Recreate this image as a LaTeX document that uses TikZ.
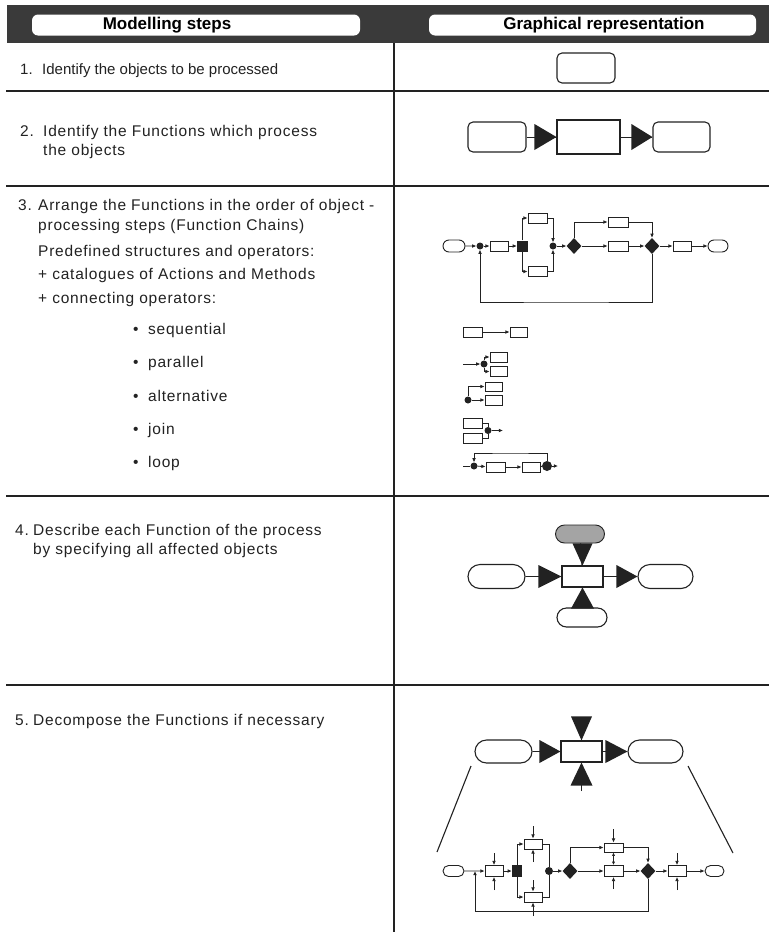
\documentclass[tikz,border=0pt]{standalone}
\usepackage{fontspec}
\setmainfont{Liberation Sans}
\newfontfamily\rowfont{Liberation Sans}[LetterSpace=5]
\usetikzlibrary{arrows.meta,shapes.misc,shapes.geometric,calc}
\definecolor{ink}{HTML}{222222}
\definecolor{band}{HTML}{3A3A3A}
\definecolor{stip}{HTML}{A4A4A4}
\begin{document}
\begin{tikzpicture}[x=1pt,y=-1pt,
  line/.style={draw=ink, line width=0.9pt},
  arr/.style={line, -{Latex[length=4.2pt,width=3.8pt]}},
  fn/.style={draw=ink, line width=0.9pt, fill=white, rectangle, inner sep=0pt},
  obj/.style={draw=ink, line width=0.9pt, fill=white, rounded rectangle, inner sep=0pt},
  robox/.style={draw=ink, line width=1.1pt, fill=white, rectangle, rounded corners=5pt, inner sep=0pt},
  dot/.style={circle, fill=ink, inner sep=0pt, minimum size=7pt},
  andsq/.style={rectangle, fill=ink, inner sep=0pt},
  xor/.style={diamond, fill=ink, inner sep=0pt, minimum width=15pt, minimum height=16pt},
  tri/.style={fill=ink},
  grid/.style={draw=ink, line width=2.2pt},
  hdrbox/.style={fill=white, rounded corners=6pt, inner sep=0pt},
  hdr/.style={inner sep=0pt, font=\fontsize{17}{20}\selectfont\bfseries, text=black},
  txtA/.style={anchor=base west, inner sep=0pt, font=\fontsize{15}{18}\selectfont, text=ink},
  txt/.style={anchor=base west, inner sep=0pt, font=\rowfont\fontsize{15.5}{18}\selectfont, text=ink},
]
\useasboundingbox (0,0) rectangle (769,932);
\fill[white] (0,0) rectangle (769,932);

% header
\fill[band] (7,5) rectangle (769,43);
\node[hdrbox, minimum width=328pt, minimum height=21pt] (h1) at (196,25) {};
\node[hdrbox, minimum width=327pt, minimum height=21pt] (h2) at (592.5,25) {};
\node[hdr] (h1t) at (167,25) {Modelling steps};
\node[hdr] (h2t) at (604,25) {Graphical representation};

% grid
\draw[grid] (394,43) -- (394,932);
\draw[grid] (6,91) -- (769,91);
\draw[grid] (6,186) -- (769,186);
\draw[grid] (6,496) -- (769,496);
\draw[grid] (6,685) -- (769,685);

% left column texts
\node[txtA] (n1) at (20,74) {1.};
\node[txtA] (t1) at (42,74) {Identify the objects to be processed};
\node[txt] (n2) at (20,136) {2.};
\node[txt] (t2a) at (43,136) {Identify the Functions which process};
\node[txt] (t2b) at (43,155) {the objects};
\node[txt] (n3) at (18,210) {3.};
\node[txt] (t3a) at (38,210) {Arrange the Functions in the order of object -};
\node[txt] (t3b) at (38,230) {processing steps (Function Chains)};
\node[txt] (t3c) at (38,256) {Predefined structures and operators:};
\node[txt] (t3d) at (38,279) {+ catalogues of Actions and Methods};
\node[txt] (t3e) at (38,303) {+ connecting operators:};
\node[txt] (b1) at (133,334) {•};
\node[txt] (o1) at (148,334) {sequential};
\node[txt] (b2) at (133,367) {•};
\node[txt] (o2) at (148,367) {parallel};
\node[txt] (b3) at (133,401) {•};
\node[txt] (o3) at (148,401) {alternative};
\node[txt] (b4) at (133,434) {•};
\node[txt] (o4) at (148,434) {join};
\node[txt] (b5) at (133,467) {•};
\node[txt] (o5) at (148,467) {loop};
\node[txt] (n4) at (15,535) {4.};
\node[txt] (t4a) at (33,535) {Describe each Function of the process};
\node[txt] (t4b) at (33,554) {by specifying all affected objects};
\node[txt] (n5) at (15,725) {5.};
\node[txt] (t5) at (33,725) {Decompose the Functions if necessary};

% row 1
\node[robox, minimum width=58pt, minimum height=30pt] (r1obj) at (586,68) {};

% row 2
\node[robox, minimum width=58pt, minimum height=30pt] (r2a) at (497,137) {};
\node[fn, line width=1.1pt, minimum width=63pt, minimum height=34pt] (r2f) at (588.5,137) {};
\node[robox, minimum width=57pt, minimum height=30pt] (r2b) at (681.5,137) {};
\draw[line] (r2a) -- (r2f);
\draw[line] (r2f) -- (r2b);
\fill[tri] (r2f.west) -- ++(-22,-13) -- ++(0,26) -- cycle;
\fill[tri] (r2b.west) -- ++(-21,-13) -- ++(0,26) -- cycle;

% row 3 main chain
\node[obj, minimum width=22pt, minimum height=12pt] (s3) at (454,246) {};
\node[dot] (d1) at (480,246) {};
\node[fn, minimum width=18pt, minimum height=10pt] (f1) at (499,246) {};
\node[andsq, minimum size=11pt] (sq) at (522.5,246) {};
\node[fn, minimum width=19pt, minimum height=10pt] (fu) at (537.5,218) {};
\node[fn, minimum width=19pt, minimum height=10pt] (fl) at (537.5,271.5) {};
\node[dot] (d2) at (553,246) {};
\node[xor] (x1) at (574,246) {};
\node[fn, minimum width=20pt, minimum height=10pt] (fu2) at (618,222) {};
\node[fn, minimum width=20pt, minimum height=10pt] (fm2) at (618,246) {};
\node[xor] (x2) at (652,246) {};
\node[fn, minimum width=18pt, minimum height=10pt] (f3) at (682,246) {};
\node[obj, minimum width=20pt, minimum height=12pt] (e3) at (718,246) {};
\coordinate (lp3) at (566,302);
\draw[arr] (s3) -- (d1);
\draw[arr] (d1) -- (f1);
\draw[arr] (f1) -- (sq);
\draw[arr] (sq.north) |- (fu.west);
\draw[arr] (sq.south) |- (fl.west);
\draw[arr] (fu.east) -| (d2.north);
\draw[arr] (fl.east) -| (d2.south);
\draw[arr] (d2) -- (x1);
\draw[arr] (x1.north) |- (fu2.west);
\draw[arr] (x1) -- (fm2);
\draw[arr] (fu2.east) -| (x2.north);
\draw[arr] (fm2) -- (x2);
\draw[arr] (x2) -- (f3);
\draw[arr] (f3) -- (e3);
\draw[arr] (x2.south) |- (lp3) -| (d1.south);

% operators: sequential
\node[fn, minimum width=19pt, minimum height=10pt] (q1) at (472.5,332) {};
\node[fn, minimum width=17pt, minimum height=10pt] (q2) at (518.5,332) {};
\draw[arr] (q1) -- (q2);
% parallel
\coordinate (pin) at (463,364);
\node[dot] (ps) at (484,364) {};
\node[fn, minimum width=17pt, minimum height=10pt] (p1) at (498.5,357) {};
\node[fn, minimum width=17pt, minimum height=10pt] (p2) at (498.5,371.5) {};
\draw[arr] (pin) -- (ps);
\draw[arr] (ps.north) |- (p1.west);
\draw[arr] (ps.south) |- (p2.west);
% alternative
\node[dot] (ad) at (468,400) {};
\node[fn, minimum width=17pt, minimum height=9pt] (a1) at (493.5,386.5) {};
\node[fn, minimum width=17pt, minimum height=10pt] (a2) at (493.5,400) {};
\draw[arr] (ad.north) |- (a1.west);
\draw[arr] (ad) -- (a2);
% join
\node[fn, minimum width=19pt, minimum height=10pt] (j1) at (472.5,423) {};
\node[fn, minimum width=19pt, minimum height=10pt] (j2) at (472.5,438) {};
\node[dot] (jd) at (488,430.5) {};
\coordinate (jo) at (503,430.5);
\draw[line] (j1.east) -| (jd.north);
\draw[line] (j2.east) -| (jd.south);
\draw[arr] (jd) -- (jo);
% loop
\coordinate (lin) at (463,466);
\node[dot] (ld) at (474,466) {};
\node[fn, minimum width=19pt, minimum height=10pt] (l1) at (495.5,467) {};
\node[fn, minimum width=18pt, minimum height=10pt] (l2) at (531,467) {};
\node[dot, minimum size=10pt] (lr) at (547,466) {};
\coordinate (lo) at (558,466);
\coordinate (ltop) at (510,453);
\draw[line] (lin) -- (ld);
\draw[arr] (ld) -- (l1);
\draw[arr] (l1) -- (l2);
\draw[line] (l2) -- (lr);
\draw[arr] (lr) -- (lo);
\draw[arr] (lr.north) |- (ltop) -| (ld.north);

% row 4
\node[fn, line width=1.1pt, minimum width=41pt, minimum height=21pt] (f4) at (582.5,576.5) {};
\node[obj, fill=stip, minimum width=49pt, minimum height=18pt] (g4) at (580,534) {};
\node[obj, line width=1.1pt, minimum width=57pt, minimum height=24pt] (l4) at (496.5,576.5) {};
\node[obj, line width=1.1pt, minimum width=55pt, minimum height=24pt] (r4) at (665.5,576.5) {};
\node[obj, line width=1.1pt, minimum width=50pt, minimum height=19pt] (b4) at (582,617.5) {};
\draw[line] (l4) -- (f4);
\draw[line] (f4) -- (r4);
\draw[line] (g4) -- (f4);
\draw[line] (b4) -- (f4);
\fill[tri] (f4.west) -- ++(-23,-11.5) -- ++(0,23) -- cycle;
\fill[tri] (r4.west) -- ++(-21,-11.5) -- ++(0,23) -- cycle;
\fill[tri] (f4.north) -- ++(-10,-22) -- ++(20,0) -- cycle;
\fill[tri] (f4.south) -- ++(-11.5,21) -- ++(23,0) -- cycle;

% row 5 top
\node[fn, line width=1.1pt, minimum width=41pt, minimum height=21pt] (f5) at (581.5,751.5) {};
\node[obj, line width=1.1pt, minimum width=57pt, minimum height=23pt] (l5) at (503.5,751.5) {};
\node[obj, line width=1.1pt, minimum width=55pt, minimum height=23pt] (r5) at (655.5,751.5) {};
\coordinate (b5) at (581.5,791);
\draw[line] (l5) -- (f5);
\draw[line] (f5) -- (r5);
\draw[line] (b5) -- (f5.south);
\fill[tri] (f5.west) -- ++(-21,-11.5) -- ++(0,23) -- cycle;
\fill[tri] (r5.west) -- ++(-22,-11.5) -- ++(0,23) -- cycle;
\fill[tri] (f5.north) -- ++(-10.5,-24) -- ++(21,0) -- cycle;
\fill[tri] (f5.south) -- ++(-11,23) -- ++(22,0) -- cycle;
\coordinate (sl1) at (471,766);
\coordinate (sl2) at (437,852);
\coordinate (sr1) at (688,766);
\coordinate (sr2) at (733,853);
\draw[line, line width=1.1pt] (sl1) -- (sl2);
\draw[line, line width=1.1pt] (sr1) -- (sr2);

% row 5 detailed chain
\node[obj, minimum width=21pt, minimum height=11pt] (s5) at (453.5,871) {};
\coordinate (jn) at (475,871);
\node[fn, minimum width=18pt, minimum height=11pt] (g1) at (494,871) {};
\node[andsq, minimum width=10pt, minimum height=12pt] (sq5) at (517,871) {};
\node[fn, minimum width=18pt, minimum height=10pt] (gu) at (533,844) {};
\node[fn, minimum width=18pt, minimum height=10pt] (gl) at (533,897) {};
\node[dot, minimum size=8pt] (jd5) at (549,871) {};
\node[xor] (y1) at (570,871) {};
\node[fn, minimum width=19pt, minimum height=9pt] (gu6) at (613.5,847.5) {};
\node[fn, minimum width=19pt, minimum height=11pt] (gm6) at (613.5,871) {};
\node[xor] (y2) at (648,871) {};
\node[fn, minimum width=18pt, minimum height=11pt] (g7) at (677,871) {};
\node[obj, minimum width=19pt, minimum height=11pt] (e5) at (714.5,871) {};
\coordinate (lp5) at (560,911);
\draw[arr] (s5) -- (g1);
\draw[arr] (g1) -- (sq5);
\draw[arr] (sq5.north) |- (gu.west);
\draw[arr] (sq5.south) |- (gl.west);
\draw[line] (gu.east) -| (jd5.north);
\draw[line] (gl.east) -| (jd5.south);
\draw[arr] (jd5) -- (y1);
\draw[arr] (y1.north) |- (gu6.west);
\draw[arr] (y1) -- (gm6);
\draw[arr] (gu6.east) -| (y2.north);
\draw[arr] (gm6) -- (y2);
\draw[arr] (y2) -- (g7);
\draw[arr] (g7) -- (e5);
\draw[arr] (y2.south) |- (lp5) -| (jn);
% small in/out arrows
\coordinate (g1t) at (494,853);
\coordinate (g1b) at (494,890);
\coordinate (gut) at (533,826);
\coordinate (gub) at (533,862);
\coordinate (glt) at (533,880);
\coordinate (glb) at (533,916);
\coordinate (gu6t) at (613.5,829);
\coordinate (gm6b) at (613.5,889);
\coordinate (g7t) at (677,853);
\coordinate (g7b) at (677,890);
\draw[arr] (g1t) -- (g1.north);
\draw[arr] (g1b) -- (g1.south);
\draw[arr] (gut) -- (gu.north);
\draw[arr] (gub) -- (gu.south);
\draw[arr] (glt) -- (gl.north);
\draw[arr] (glb) -- (gl.south);
\draw[arr] (gu6t) -- (gu6.north);
\draw[line, {Latex[length=3.5pt,width=3.2pt]}-{Latex[length=3.5pt,width=3.2pt]}] (gu6.south) -- (gm6.north);
\draw[arr] (gm6b) -- (gm6.south);
\draw[arr] (g7t) -- (g7.north);
\draw[arr] (g7b) -- (g7.south);
\end{tikzpicture}
\end{document}
